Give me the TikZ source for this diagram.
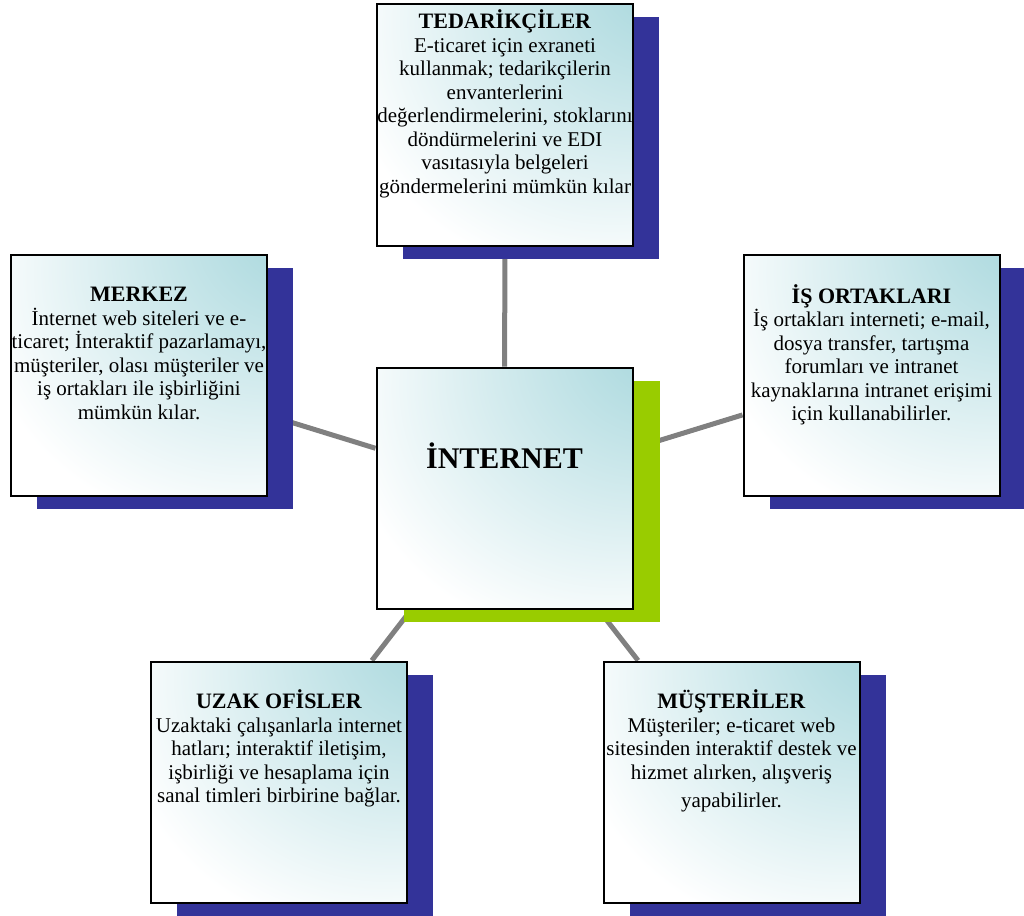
\documentclass[tikz,border=0pt]{standalone}
\usepackage{fontspec}
\setmainfont{Liberation Serif}
\usetikzlibrary{positioning,shadows}
\definecolor{shadowblue}{RGB}{51,51,153}
\definecolor{shadowgreen}{RGB}{153,204,0}
\definecolor{boxteal}{RGB}{176,219,224}
\definecolor{linkgray}{RGB}{128,128,128}
\pgfdeclarelayer{background}
\pgfsetlayers{background,main}
\pgfdeclareradialshading{cornerglow}{\pgfpoint{36bp}{36bp}}{%
  color(0bp)=(boxteal); color(10bp)=(boxteal); color(50bp)=(white); color(100bp)=(white)}

\tikzset{
  boxbase/.style={draw=black, line width=2pt, inner sep=0pt,
    minimum width=256pt, minimum height=241pt, shade, shading=cornerglow},
  box/.style={boxbase, general shadow={fill=shadowblue, shadow xshift=26pt, shadow yshift=-13pt}},
  centerbox/.style={boxbase, general shadow={fill=shadowgreen, shadow xshift=27pt, shadow yshift=-13pt}},
  txt/.style={align=center, inner sep=0pt, font=\fontsize{21}{23.5}\selectfont},
  link/.style={draw=linkgray, line width=5pt}
}
\newcommand\boxtitle[1]{\textbf{\fontsize{22}{23.5}\selectfont #1}}

\begin{document}
\begin{tikzpicture}[x=1pt,y=-1pt]
\useasboundingbox (0,0) rectangle (1024,915);

% kutular
\node[box] (tedarik) at (505,125) {};
\node[box] (merkez) at (139,375.5) {};
\node[box] (isortak) at (871.5,375.5) {};
\node[centerbox] (internet) at (504.5,488) {};
\node[box] (uzak) at (279,782) {};
\node[box] (musteri) at (731.5,782) {};

% baglantilar
\begin{pgfonlayer}{background}
\draw[link] (internet) -- (tedarik);
\draw[link] (internet) -- (merkez);
\draw[link] (internet) -- (isortak);
\draw[link] (internet) -- (uzak);
\draw[link] (internet) -- (musteri);
\end{pgfonlayer}

% metinler
\node[txt, font=\bfseries\fontsize{30}{30}\selectfont] (internettxt) at (504.5,456) {İNTERNET};
\node[txt, below=6pt of tedarik.north] (tedariktxt) {\boxtitle{TEDARİKÇİLER}\\E-ticaret için exraneti\\kullanmak; tedarikçilerin\\envanterlerini\\değerlendirmelerini, stoklarını\\döndürmelerini ve EDI\\vasıtasıyla belgeleri\\göndermelerini mümkün kılar};
\node[txt, below=33pt of merkez.north] (merkeztxt) {\boxtitle{MERKEZ}\\İnternet web siteleri ve e-\\ticaret; İnteraktif pazarlamayı,\\müşteriler, olası müşteriler ve\\iş ortakları ile işbirliğini\\mümkün kılar.};
\node[txt, below=30pt of isortak.north] (isortaktxt) {\boxtitle{İŞ ORTAKLARI}\\İş ortakları interneti; e-mail,\\dosya transfer, tartışma\\forumları ve intranet\\kaynaklarına intranet erişimi\\için kullanabilirler.};
\node[txt, below=29pt of uzak.north] (uzaktxt) {\boxtitle{UZAK OFİSLER}\\Uzaktaki çalışanlarla internet\\hatları; interaktif iletişim,\\işbirliği ve hesaplama için\\sanal timleri birbirine bağlar.};
\node[txt, below=29pt of musteri.north] (musteritxt) {\boxtitle{MÜŞTERİLER}\\Müşteriler; e-ticaret web\\sitesinden interaktif destek ve\\hizmet alırken, alışveriş\\[5pt]yapabilirler.};
\end{tikzpicture}
\end{document}
